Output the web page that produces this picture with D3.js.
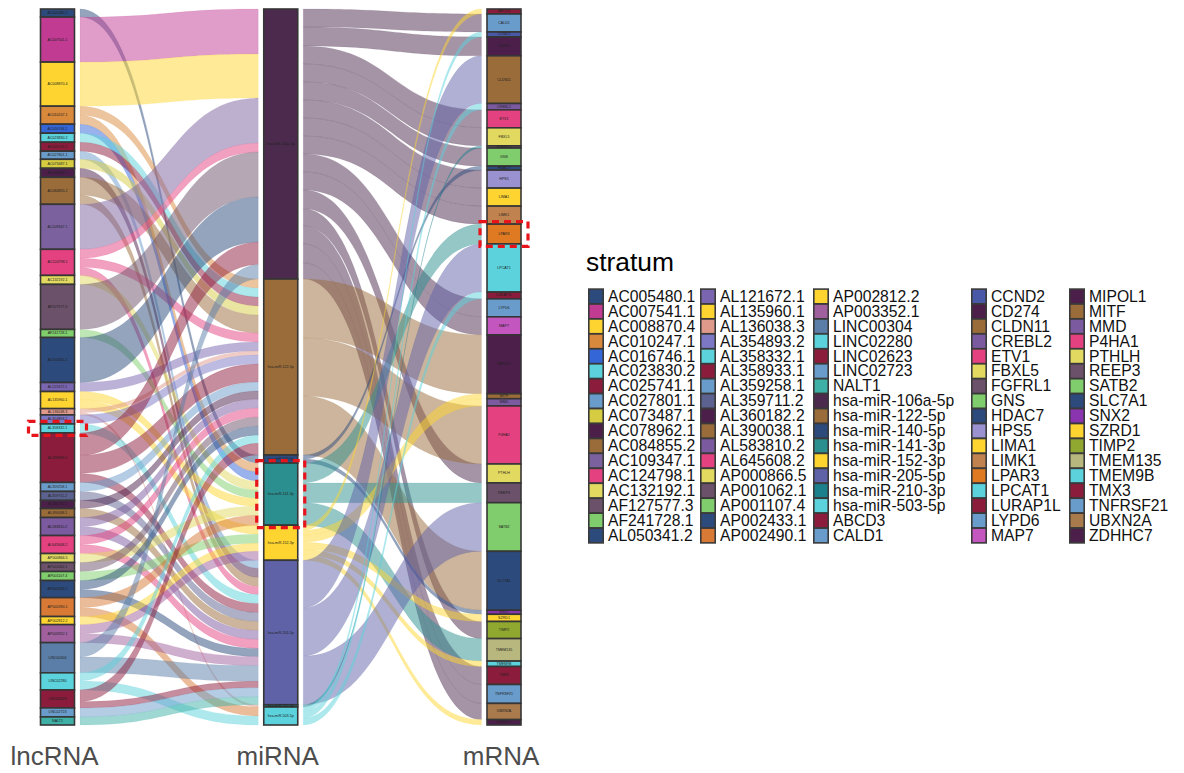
<!DOCTYPE html>
<html>
<head>
<meta charset="utf-8">
<script src="https://cdn.jsdelivr.net/npm/d3@7"></script>
<style>
  html, body { margin: 0; padding: 0; background: #ffffff; }
  svg { display: block; font-family: "Liberation Sans", Arial, sans-serif; }
</style>
</head>
<body>
<script>
// ---------------- DATA ----------------
const axes = ["lncRNA", "miRNA", "mRNA"];

const lncRNAs = ["AC005480.1","AC007541.1","AC008870.4","AC010247.1","AC016746.1","AC023830.2","AC025741.1",
  "AC027801.1","AC073487.1","AC078962.1","AC084855.2","AC109347.1","AC124798.1","AC132192.1","AF127577.3",
  "AF241728.1","AL050341.2","AL121672.1","AL135960.1","AL136038.3","AL354893.2","AL358332.1","AL358933.1",
  "AL359258.1","AL359711.2","AL360182.2","AL390038.1","AL583810.2","AL645608.2","AP000866.5","AP001062.1",
  "AP001107.4","AP002433.1","AP002490.1","AP002812.2","AP003352.1","LINC00304","LINC02280","LINC02623",
  "LINC02723","NALT1"];
const lncColors = ["#2c4a7c","#c13b93","#fed530","#d9893b","#3466d8","#5bd2dc","#8b1c3c",
  "#6a9ccb","#d6cc42","#4b1f4a","#9a6c3a","#7b629f","#e3417f","#e2d960","#6b5169",
  "#7fcd6c","#2c4a7c","#7a66b0","#fed530","#e09a8c","#7c78c6","#5bd2dc","#8b1c3c",
  "#6a9ccb","#5c6290","#4b1f4a","#9a6c3a","#7b5aa0","#e3417f","#e2d960","#6b5169",
  "#7fcd6c","#2c4a7c","#d87a36","#fed530","#a0609e","#5a7ea8","#5bd2dc","#8b1c3c",
  "#6a9ccb","#3fb0a6"];

const miRNAs = ["hsa-miR-106a-5p","hsa-miR-122-5p","hsa-miR-140-5p","hsa-miR-141-3p",
  "hsa-miR-152-3p","hsa-miR-205-5p","hsa-miR-210-3p","hsa-miR-503-5p"];
const miColors = ["#4b2a4d","#9a6c3a","#2c4a7c","#2c8f8f","#fed530","#6062a8","#1c7f8c","#5bd2dc"];

const mRNAs = ["ABCD3","CALD1","CCND2","CD274","CLDN11","CREBL2","ETV1","FBXL5","FGFRL1","GNS","HDAC7",
  "HPS5","LIMA1","LIMK1","LPAR3","LPCAT1","LURAP1L","LYPD6","MAP7","MIPOL1","MITF","MMD","P4HA1","PTHLH",
  "REEP3","SATB2","SLC7A1","SNX2","SZRD1","TIMP2","TMEM135","TMEM9B","TMX3","TNFRSF21","UBXN2A","ZDHHC7"];
const mColors = ["#8b1c3c","#6a9ccb","#4a58a8","#4b1f4a","#9a6c3a","#7b5aa0","#e3417f","#e2d960","#6b5169",
  "#7fcd6c","#2c4a7c","#9a92d0","#fed530","#c0824e","#e07a22","#5bd2dc","#8b1c3c","#6a9ccb","#c456c0",
  "#4b1f4a","#9a6c3a","#7b5aa0","#e3417f","#e2d960","#6b5169","#7fcd6c","#2c4a7c","#8a34b0","#fed530",
  "#90a830","#b8b87e","#5bd2dc","#8b1c3c","#6a9ccb","#a87a4c","#4b1f4a"];

// lncRNA -> miRNA links [lncRNA, miRNA, weight]
const lncMiLinks = [
  ["AC005480.1","hsa-miR-140-5p",0.9],
  ["AC007541.1","hsa-miR-106a-5p",5],
  ["AC008870.4","hsa-miR-106a-5p",4.9],
  ["AC010247.1","hsa-miR-122-5p",1],["AC010247.1","hsa-miR-141-3p",1],
  ["AC016746.1","hsa-miR-141-3p",1],
  ["AC023830.2","hsa-miR-122-5p",1],
  ["AC025741.1","hsa-miR-122-5p",1],
  ["AC027801.1","hsa-miR-205-5p",0.9],
  ["AC073487.1","hsa-miR-122-5p",1],
  ["AC078962.1","hsa-miR-205-5p",1],
  ["AC084855.2","hsa-miR-122-5p",2],["AC084855.2","hsa-miR-205-5p",1],
  ["AC109347.1","hsa-miR-106a-5p",5],
  ["AC124798.1","hsa-miR-106a-5p",1],["AC124798.1","hsa-miR-122-5p",1],["AC124798.1","hsa-miR-205-5p",0.9],
  ["AC132192.1","hsa-miR-141-3p",1],
  ["AF127577.3","hsa-miR-106a-5p",5],
  ["AF241728.1","hsa-miR-141-3p",0.9],
  ["AL050341.2","hsa-miR-106a-5p",5],
  ["AL121672.1","hsa-miR-122-5p",1],
  ["AL135960.1","hsa-miR-141-3p",0.9],["AL135960.1","hsa-miR-152-3p",1],
  ["AL136038.3","hsa-miR-122-5p",0.45],["AL136038.3","hsa-miR-210-3p",0.25],
  ["AL354893.2","hsa-miR-122-5p",1],
  ["AL358332.1","hsa-miR-205-5p",1],
  ["AL358933.1","hsa-miR-106a-5p",2.5],["AL358933.1","hsa-miR-122-5p",2],["AL358933.1","hsa-miR-205-5p",1],
  ["AL359258.1","hsa-miR-122-5p",1],
  ["AL359711.2","hsa-miR-205-5p",1],
  ["AL360182.2","hsa-miR-122-5p",0.9],
  ["AL390038.1","hsa-miR-205-5p",1],
  ["AL583810.2","hsa-miR-122-5p",1],["AL583810.2","hsa-miR-205-5p",1],
  ["AL645608.2","hsa-miR-122-5p",1],["AL645608.2","hsa-miR-205-5p",1],
  ["AP000866.5","hsa-miR-141-3p",1],
  ["AP001062.1","hsa-miR-122-5p",1],
  ["AP001107.4","hsa-miR-152-3p",1],
  ["AP002433.1","hsa-miR-122-5p",1],["AP002433.1","hsa-miR-205-5p",0.9],
  ["AP002490.1","hsa-miR-141-3p",1.1],["AP002490.1","hsa-miR-503-5p",1],
  ["AP002812.2","hsa-miR-152-3p",0.9],
  ["AP003352.1","hsa-miR-152-3p",1],["AP003352.1","hsa-miR-205-5p",1],
  ["LINC00304","hsa-miR-106a-5p",1.6],["LINC00304","hsa-miR-205-5p",1.75],
  ["LINC02280","hsa-miR-122-5p",0.9],["LINC02280","hsa-miR-503-5p",1],
  ["LINC02623","hsa-miR-122-5p",1.3],["LINC02623","hsa-miR-205-5p",0.7],
  ["LINC02723","hsa-miR-205-5p",1],
  ["NALT1","hsa-miR-205-5p",0.9]
];

// miRNA -> mRNA links [miRNA, mRNA, weight]
const miMLinks = [
  ["hsa-miR-106a-5p","CALD1",2],["hsa-miR-106a-5p","CD274",2.1],["hsa-miR-106a-5p","ETV1",2],
  ["hsa-miR-106a-5p","FBXL5",2],["hsa-miR-106a-5p","GNS",2],["hsa-miR-106a-5p","HPS5",2],
  ["hsa-miR-106a-5p","LIMA1",2],["hsa-miR-106a-5p","LIMK1",2],["hsa-miR-106a-5p","LYPD6",2],
  ["hsa-miR-106a-5p","MAP7",2],["hsa-miR-106a-5p","PTHLH",2.1],["hsa-miR-106a-5p","TIMP2",1.9],
  ["hsa-miR-106a-5p","TMX3",2],["hsa-miR-106a-5p","TNFRSF21",2.1],["hsa-miR-106a-5p","UBXN2A",1.8],
  ["hsa-miR-122-5p","MIPOL1",6.55],["hsa-miR-122-5p","P4HA1",6.45],["hsa-miR-122-5p","SLC7A1",6.55],
  ["hsa-miR-140-5p","HDAC7",0.45],["hsa-miR-140-5p","SNX2",0.45],
  ["hsa-miR-141-3p","LPAR3",2.2],["hsa-miR-141-3p","REEP3",2.2],["hsa-miR-141-3p","TMEM135",2.5],
  ["hsa-miR-152-3p","ABCD3",0.55],["hsa-miR-152-3p","MITF",0.55],["hsa-miR-152-3p","MMD",0.8],
  ["hsa-miR-152-3p","SZRD1",0.8],["hsa-miR-152-3p","TMEM9B",0.6],["hsa-miR-152-3p","ZDHHC7",0.6],
  ["hsa-miR-205-5p","CLDN11",5.3],["hsa-miR-205-5p","LPCAT1",5.35],["hsa-miR-205-5p","SATB2",5.4],
  ["hsa-miR-210-3p","FGFRL1",0.25],
  ["hsa-miR-503-5p","CCND2",0.55],["hsa-miR-503-5p","CREBL2",0.7],["hsa-miR-503-5p","LURAP1L",0.75]
];

const highlighted = ["AL358332.1","hsa-miR-141-3p","LPAR3"];
const legendTitle = "stratum";

// ---------------- LAYOUT ----------------
const W = 1184, H = 773;
const svg = d3.select("body").append("svg").attr("width", W).attr("height", H);

const x = d3.scalePoint().domain(axes).range([57.5, 504]);
const stratW = 34, flowHalf = 22.5;
const total = d3.sum(lncMiLinks, d => d[2]);
const y = d3.scaleLinear().domain([0, total]).range([9, 725]);

const axisNames = [lncRNAs, miRNAs, mRNAs];
const axisColors = [lncColors, miColors, mColors];

const sizes = [
  d3.rollup(lncMiLinks, v => d3.sum(v, d => d[2]), d => d[0]),
  d3.rollup(lncMiLinks, v => d3.sum(v, d => d[2]), d => d[1]),
  d3.rollup(miMLinks, v => d3.sum(v, d => d[2]), d => d[1])
];

const strata = [];
axisNames.forEach((names, ai) => {
  let cum = 0;
  names.forEach((n, i) => {
    const s = sizes[ai].get(n) || 0;
    strata.push({axis: ai, name: n, color: axisColors[ai][i], idx: i, y0: cum, y1: cum + s});
    cum += s;
  });
});
const stratumOf = (ai, n) => strata.find(s => s.axis === ai && s.name === n);

function buildFlows(links, aFrom) {
  const flows = links.map(l => ({
    src: stratumOf(aFrom, l[0]), dst: stratumOf(aFrom + 1, l[1]), w: l[2]
  }));
  d3.group(flows, f => f.src.name).forEach(arr => {
    arr.sort((a, b) => a.dst.idx - b.dst.idx);
    let c = arr[0].src.y0;
    arr.forEach(f => { f.sy0 = c; c += f.w; f.sy1 = c; });
  });
  d3.group(flows, f => f.dst.name).forEach(arr => {
    arr.sort((a, b) => a.src.idx - b.src.idx);
    let c = arr[0].dst.y0;
    arr.forEach(f => { f.ty0 = c; c += f.w; f.ty1 = c; });
  });
  return flows;
}
const flows1 = buildFlows(lncMiLinks, 0);
const flows2 = buildFlows(miMLinks, 1);

function flowPath(f) {
  const x0 = x(axes[f.src.axis]) + flowHalf;
  const x1 = x(axes[f.dst.axis]) - flowHalf;
  const xm = (x0 + x1) / 2;
  const a0 = y(f.sy0), a1 = y(f.sy1), b0 = y(f.ty0), b1 = y(f.ty1);
  return `M${x0},${a0}C${xm},${a0} ${xm},${b0} ${x1},${b0}L${x1},${b1}C${xm},${b1} ${xm},${a1} ${x0},${a1}Z`;
}

const gFlows = svg.append("g");
gFlows.selectAll("path.f1").data(flows1).join("path")
  .attr("d", flowPath).attr("fill", f => f.src.color).attr("fill-opacity", 0.5)
  .attr("stroke", f => f.src.color).attr("stroke-opacity", 0.25).attr("stroke-width", 0.4);
gFlows.selectAll("path.f2").data(flows2).join("path")
  .attr("d", flowPath).attr("fill", f => f.src.color).attr("fill-opacity", 0.5)
  .attr("stroke", f => f.src.color).attr("stroke-opacity", 0.25).attr("stroke-width", 0.4);

const gStrata = svg.append("g");
gStrata.selectAll("rect").data(strata).join("rect")
  .attr("x", s => x(axes[s.axis]) - stratW / 2)
  .attr("y", s => y(s.y0))
  .attr("width", stratW)
  .attr("height", s => y(s.y1) - y(s.y0))
  .attr("fill", s => s.color)
  .attr("stroke", "#363636").attr("stroke-width", 1.6);
gStrata.selectAll("text").data(strata).join("text")
  .attr("x", s => x(axes[s.axis]))
  .attr("y", s => (y(s.y0) + y(s.y1)) / 2)
  .attr("text-anchor", "middle").attr("dominant-baseline", "central")
  .attr("font-size", 3.6).attr("fill", "#222")
  .text(s => s.name);

// highlight boxes (dashed red annotations)
const boxPad = [12, 7, 7];
svg.append("g").selectAll("rect").data(highlighted.map(n => strata.find(s => s.name === n))).join("rect")
  .attr("x", s => x(axes[s.axis]) - stratW / 2 - boxPad[s.axis])
  .attr("y", s => y(s.y0) - 2.5)
  .attr("width", s => stratW + 2 * boxPad[s.axis])
  .attr("height", s => y(s.y1) - y(s.y0) + 5)
  .attr("fill", "none").attr("stroke", "#e8141b").attr("stroke-width", 3.2)
  .attr("stroke-dasharray", "7,5");

// axis labels
svg.append("g").selectAll("text").data(axes).join("text")
  .attr("x", d => x(d) - 3).attr("y", 765)
  .attr("text-anchor", "middle").attr("font-size", 26).attr("fill", "#4d4d4d")
  .text(d => d);

// legend
const legendItems = [];
axisNames.forEach((names, ai) => names.forEach((n, i) => legendItems.push({name: n, color: axisColors[ai][i]})));
const perCol = 17;
const colX = [588, 700, 813, 971, 1069];
const rowTop = 288.3, rowH = 14.94, keyW = 16;
const lg = svg.append("g");
lg.append("text").attr("x", 586).attr("y", 271).attr("font-size", 26.4).attr("fill", "#000").text(legendTitle);
const items = lg.selectAll("g.item").data(legendItems).join("g")
  .attr("transform", (d, i) => `translate(${colX[Math.floor(i / perCol)]},${rowTop + (i % perCol) * rowH})`);
items.append("rect").attr("x", 0.8).attr("y", 0.8).attr("width", keyW - 1.6).attr("height", rowH - 0.2)
  .attr("fill", d => d.color).attr("stroke", "#3a3a3a").attr("stroke-width", 1.6);
items.append("text").attr("x", 20).attr("y", rowH / 2 + 0.5)
  .attr("dominant-baseline", "central").attr("font-size", 15.7).attr("fill", "#111")
  .text(d => d.name);
</script>
</body>
</html>
